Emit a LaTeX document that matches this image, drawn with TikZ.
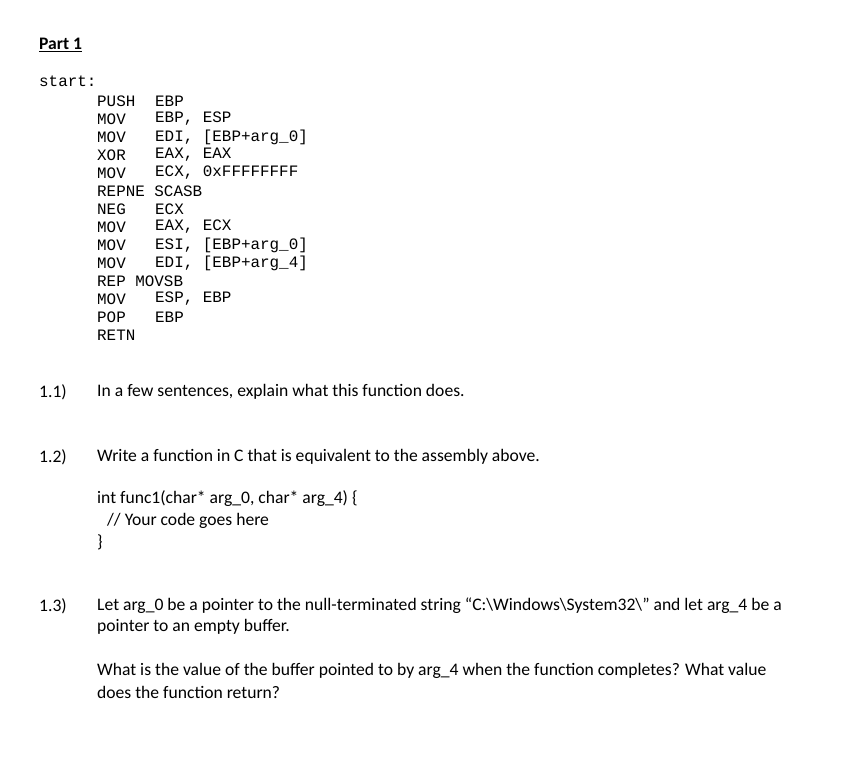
\documentclass[tikz,border=0pt]{standalone}
\usepackage{fontspec}
\setmainfont{Carlito}
\newfontfamily\cour{Liberation Mono}
\begin{document}
\begin{tikzpicture}[x=1pt,y=-1pt,
  txt/.style={anchor=west,inner sep=0pt,font=\fontsize{17.6}{20}\selectfont},
  asm/.style={anchor=west,inner sep=0pt,font=\cour\fontsize{15.9}{18}\selectfont}]
\useasboundingbox (0,0) rectangle (850,771);
\node[txt,font=\bfseries\fontsize{17.6}{20}\selectfont] (p1) at (39,45) {\underline{Part 1}};
\node[asm] (st) at (39,81) {start:};
\foreach \i/\a/\b in {0/PUSH/EBP,1/MOV/{EBP, ESP},2/MOV/{EDI, [EBP+arg\_0]},3/XOR/{EAX, EAX},4/MOV/{ECX, 0xFFFFFFFF},5/{REPNE SCASB}/{},6/NEG/ECX,7/MOV/{EAX, ECX},8/MOV/{ESI, [EBP+arg\_0]},9/MOV/{EDI, [EBP+arg\_4]},10/{REP MOVSB}/{},11/MOV/{ESP, EBP},12/POP/EBP,13/RETN/{}}{
  \node[asm] (a\i) at (97,101+18*\i) {\a};
  \node[asm] (b\i) at (155,101+18*\i) {\b};
}
\node[txt] (n1) at (39,392) {1.1)};
\node[txt] (q1) at (97,392) {In a few sentences, explain what this function does.};
\node[txt] (n2) at (39,457) {1.2)};
\node[txt] (q2) at (97,457) {Write a function in C that is equivalent to the assembly above.};
\node[txt] (c1) at (97,499) {int func1(char* arg\_0, char* arg\_4) \{};
\node[txt] (c2) at (107,521) {// Your code goes here};
\node[txt] (c3) at (97,542) {\}};
\node[txt] (n3) at (39,606) {1.3)};
\node[txt] (q3a) at (97,606) {Let arg\_0 be a pointer to the null-terminated string “C:\textbackslash Windows\textbackslash System32\textbackslash” and let arg\_4 be a};
\node[txt] (q3b) at (97,627) {pointer to an empty buffer.};
\node[txt] (q3c) at (97,671) {What is the value of the buffer pointed to by arg\_4 when the function completes? What value};
\node[txt] (q3d) at (97,692) {does the function return?};
\end{tikzpicture}
\end{document}
